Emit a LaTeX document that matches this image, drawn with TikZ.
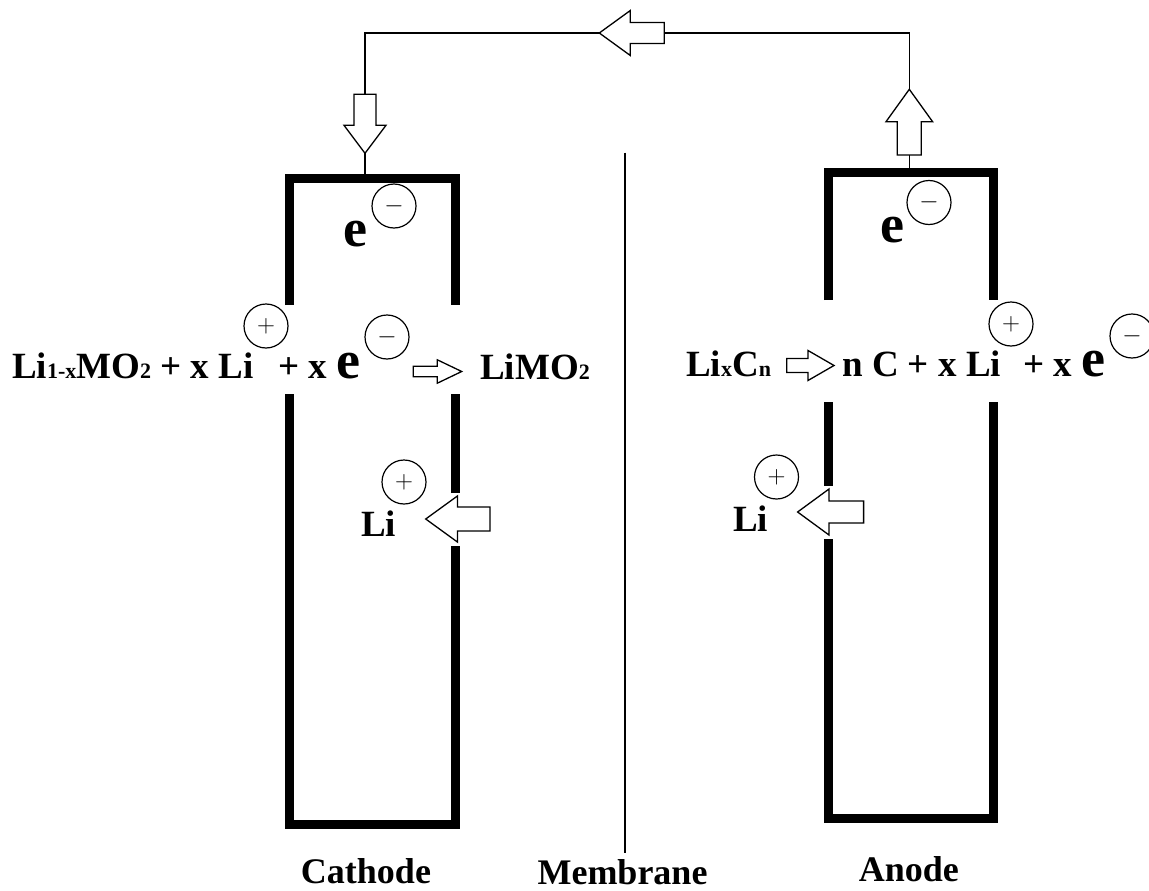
\documentclass[tikz,border=0pt]{standalone}
\usepackage[no-math]{fontspec}
\setmainfont{Liberation Serif}
\usetikzlibrary{positioning}
\newcommand{\sm}[1]{{\fontsize{22}{24}\selectfont #1}}
\newcommand{\bigel}{{\fontsize{54}{60}\selectfont e}}
% hollow block arrow: tip, angle, length, head length, head half width, shaft half width
\newcommand{\blockarr}[6]{\draw[blk,shift={(#1)},rotate=#2] (0,0) -- (#4,#5) -- (#4,#6) -- (#3,#6) -- (#3,-#6) -- (#4,-#6) -- (#4,-#5) -- cycle;}

\begin{document}
\begin{tikzpicture}[x=1pt,y=-1pt,
   electrode/.style={line width=9pt,line join=miter},
   wire/.style={line width=1.3pt},
   blk/.style={draw,line width=1.3pt,fill=white,line join=miter},
   ion/.style={draw,circle,line width=1.2pt,minimum size=44pt,inner sep=0pt,font=\fontsize{27}{30}\selectfont},
   txt/.style={inner sep=0pt,anchor=base west,font=\bfseries\fontsize{37}{40}\selectfont},
   lbl/.style={inner sep=0pt,anchor=base,font=\bfseries\fontsize{36}{40}\selectfont}]
  \useasboundingbox (0,0) rectangle (1149,891);
  % cathode
  \draw[electrode] (289,305) -- (289,178) -- (455,178) -- (455,305);
  \draw[electrode] (289,394) -- (289,824) -- (455,824) -- (455,545.7);
  \draw[electrode] (455,493) -- (455,394);
  % anode
  \draw[electrode] (828,300) -- (828,172.5) -- (993.5,172.5) -- (993.5,300);
  \draw[electrode] (828,402) -- (828,486);
  \draw[electrode] (828,539) -- (828,818.3) -- (993.5,818.3) -- (993.5,402);
  % membrane
  \draw[wire] (625,152.7) -- (625,853.3);
  % outer circuit
  \coordinate (cTop) at (365,173.5);
  \coordinate (aTop) at (909.3,168);
  \coordinate (wTip) at (599.3,33);  \coordinate (wTail) at (664.3,33);
  \coordinate (dTip) at (365,153.3); \coordinate (dTail) at (365,94.3);
  \coordinate (uTip) at (909.3,89.3); \coordinate (uTail) at (909.3,155);
  \blockarr{wTip}{0}{65}{31}{22.5}{10.5}
  \blockarr{dTip}{90}{59}{28}{21}{11}
  \blockarr{uTip}{-90}{65.7}{32.4}{23.3}{12}
  \draw[wire] (wTip) -| (dTail);
  \draw[wire] (wTail) -| (uTip);
  \draw[wire] (dTip) -- (cTop);
  \draw[wire] (uTail) -- (aTop);
  % ion arrows
  \coordinate (cLi) at (425.7,519);   \blockarr{cLi}{0}{64.3}{31.7}{23}{12}
  \coordinate (aLi) at (797.6,512);   \blockarr{aLi}{0}{66}{31.4}{23}{11}
  \coordinate (cEq) at (461.7,371.5); \blockarr{cEq}{180}{48.4}{24.4}{11.7}{5.3}
  \coordinate (aEq) at (834,365.5);   \blockarr{aEq}{180}{47.3}{26}{15}{7}
  % electrons at the top
  \node[txt] (eC) at (343,246) {\bigel};
  \node[ion] (mC0) at (394,206) {$-$};
  \node[txt] (eA) at (880,242) {\bigel};
  \node[ion] (mA0) at (929,202.5) {$-$};
  % cathode reaction
  \node[txt] (eqC1) at (12,378) {Li\sm{1-x}MO\sm{2} + x Li};
  \node[ion] (pC1) at (266,326) {$+$};
  \node[txt] (eqC2) at (278,378) {+ x \bigel};
  \node[ion] (mC1) at (387,337) {$-$};
  \node[txt] (eqC3) at (480,379) {LiMO\sm{2}};
  % anode reaction
  \node[txt] (eqA1) at (686,376) {Li\sm{x}C\sm{n}};
  \node[txt] (eqA2) at (842,376) {n C + x Li};
  \node[ion] (pA1) at (1011,324) {$+$};
  \node[txt] (eqA3) at (1023,376) {+ x \bigel};
  \node[ion] (mA1) at (1132,336) {$-$};
  % lithium ions
  \node[txt] (liC) at (361,536) {Li};
  \node[ion] (pC2) at (404,482) {$+$};
  \node[txt] (liA) at (733,531) {Li};
  \node[ion] (pA2) at (776.5,477) {$+$};
  % labels
  \node[lbl] (cath) at (366,883) {Cathode};
  \node[lbl] (memb) at (622.5,884.5) {Membrane};
  \node[lbl] (anod) at (908.8,881.7) {Anode};
\end{tikzpicture}
\end{document}
